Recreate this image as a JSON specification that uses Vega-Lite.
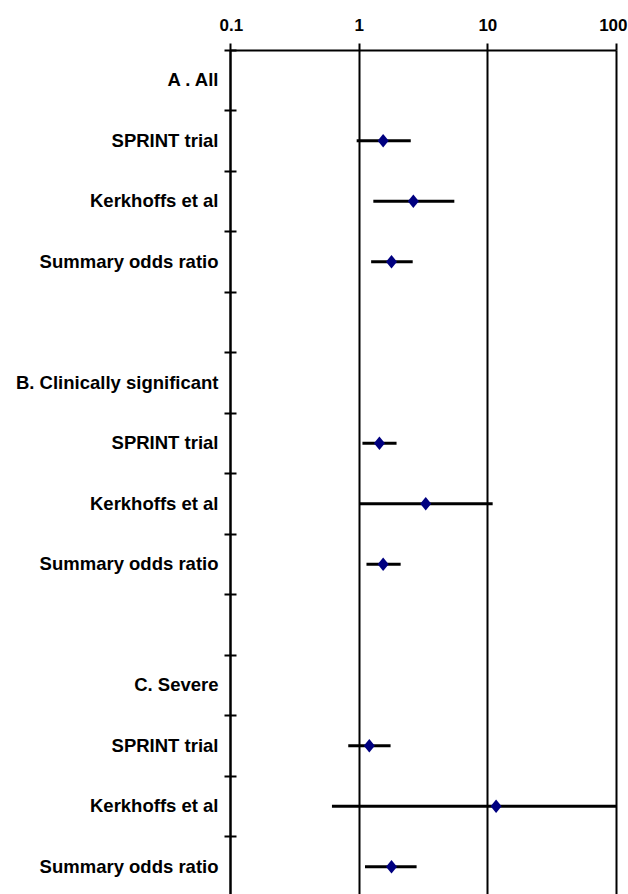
{
  "$schema": "https://vega.github.io/schema/vega-lite/v6.json",
  "width": 386,
  "height": 847,
  "autosize": {"type": "none"},
  "padding": {"left": 230, "top": 50, "right": 12, "bottom": 0},
  "background": "white",
  "config": {
    "view": {"stroke": null},
    "axis": {
      "domainColor": "#000",
      "tickColor": "#000",
      "gridColor": "#000",
      "gridOpacity": 1,
      "labelColor": "#000",
      "labelFont": "Liberation Sans",
      "labelFontWeight": "bold"
    }
  },
  "data": {
    "values": [
      {"row": 2, "or": 1.55, "lo": 0.965, "hi": 2.54},
      {"row": 3, "or": 2.66, "lo": 1.30, "hi": 5.54},
      {"row": 4, "or": 1.80, "lo": 1.25, "hi": 2.63},
      {"row": 7, "or": 1.45, "lo": 1.07, "hi": 1.97},
      {"row": 8, "or": 3.32, "lo": 1.01, "hi": 11.0},
      {"row": 9, "or": 1.55, "lo": 1.15, "hi": 2.12},
      {"row": 12, "or": 1.21, "lo": 0.83, "hi": 1.77},
      {"row": 13, "or": 11.7, "lo": 0.62, "hi": 100},
      {"row": 14, "or": 1.80, "lo": 1.12, "hi": 2.82}
    ]
  },
  "layer": [
    {
      "mark": {"type": "rule", "strokeWidth": 3, "color": "#000"},
      "encoding": {
        "y": {
          "field": "row",
          "type": "ordinal",
          "scale": {"type": "band", "domain": [1, 2, 3, 4, 5, 6, 7, 8, 9, 10, 11, 12, 13, 14], "paddingInner": 0, "paddingOuter": 0},
          "axis": {
            "orient": "left",
            "title": null,
            "ticks": false,
            "domain": true,
            "domainWidth": 2,
            "grid": false,
            "labelPadding": 12,
            "labelFontSize": 18.5,
            "labelLimit": 0,
            "labelAlign": "right",
            "labelBaseline": "middle",
            "labelExpr": "['A . All','SPRINT trial','Kerkhoffs et al','Summary odds ratio','','B. Clinically significant','SPRINT trial','Kerkhoffs et al','Summary odds ratio','','C. Severe','SPRINT trial','Kerkhoffs et al','Summary odds ratio'][datum.value-1]"
          }
        },
        "x": {
          "field": "lo",
          "type": "quantitative",
          "scale": {"type": "log", "domain": [0.1, 100]},
          "axis": {
            "orient": "top",
            "title": null,
            "values": [0.1, 1, 10, 100],
            "format": "~g",
            "grid": true,
            "gridWidth": 2,
            "domainWidth": 2,
            "tickWidth": 2,
            "tickSize": 7,
            "labelPadding": 9,
            "labelFontSize": 17,
            "labelFlush": true,
            "labelFlushOffset": 11
          }
        },
        "x2": {"field": "hi"}
      }
    },
    {
      "mark": {"type": "point", "filled": true, "shape": "M0,-1.1L0.9,0L0,1.1L-0.9,0Z", "size": 150, "color": "#000080", "opacity": 1},
      "encoding": {
        "y": {
          "field": "row",
          "type": "ordinal",
          "axis": {
            "orient": "left",
            "title": null,
            "labels": false,
            "domain": false,
            "grid": false,
            "ticks": true,
            "tickSize": 12,
            "tickWidth": 2,
            "offset": -6,
            "bandPosition": 0
          }
        },
        "x": {"field": "or", "type": "quantitative"}
      }
    }
  ],
  "resolve": {"axis": {"y": "independent"}}
}
